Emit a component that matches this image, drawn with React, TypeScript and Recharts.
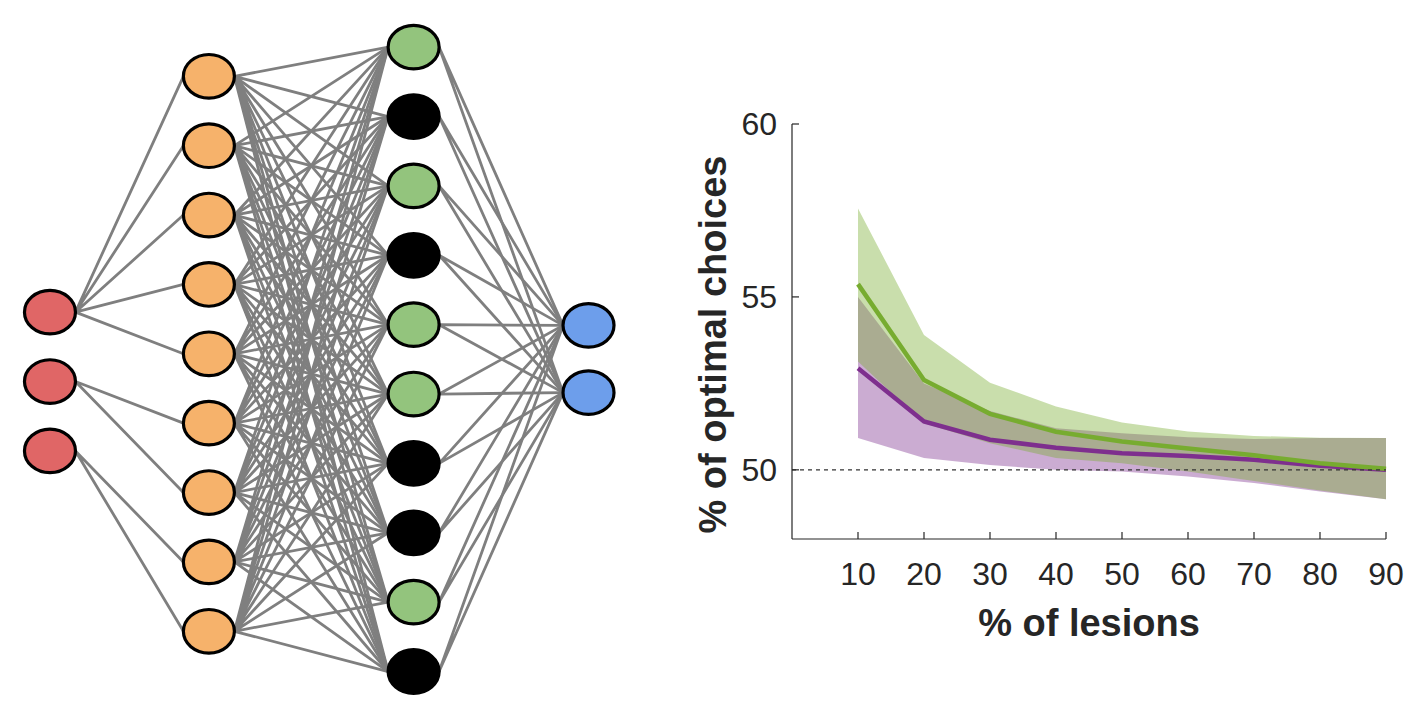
import React from "react";
import {
  ComposedChart,
  ScatterChart,
  Scatter,
  Area,
  Line,
  XAxis,
  YAxis,
  ReferenceLine,
  Label,
} from "recharts";

// ---- network diagram (units: one node spacing) ----
const layerX = [0.72, 3.01, 5.96, 8.48];
const inputRows = [4.5, 5.5, 6.5];
const hidden1Rows = [1.1, 2.1, 3.1, 4.1, 5.1, 6.1, 7.1, 8.1, 9.1];
const hidden2Rows = [0.68, 1.68, 2.68, 3.68, 4.68, 5.68, 6.68, 7.68, 8.68, 9.68];
const hidden2Lesioned = [false, true, false, true, false, false, true, true, false, true];
const outputRows = [4.69, 5.66];
const inputTargets = [
  [0, 1, 2, 3, 4],
  [5, 6],
  [7, 8],
];
const nodeHalfWidth = 0.367;

// ---- lesion curves ----
const lesionPct = [10, 20, 30, 40, 50, 60, 70, 80, 90];
const greenMean = [55.37, 52.6, 51.62, 51.1, 50.82, 50.62, 50.42, 50.19, 50.03];
const greenHigh = [57.56, 53.9, 52.52, 51.83, 51.37, 51.11, 50.98, 50.93, 50.92];
const greenLow = [53.13, 51.35, 50.77, 50.34, 50.19, 49.95, 49.68, 49.4, 49.15];
const purpleMean = [52.94, 51.4, 50.87, 50.64, 50.48, 50.4, 50.29, 50.12, 50.0];
const purpleHigh = [55.0, 52.5, 51.7, 51.2, 51.06, 50.94, 50.89, 50.92, 50.92];
const purpleLow = [50.92, 50.34, 50.14, 50.0, 49.95, 49.81, 49.62, 49.37, 49.15];
const xTicks = [10, 20, 30, 40, 50, 60, 70, 80, 90];
const yTicks = [50, 55, 60];

const GREEN = "#77AC30";
const PURPLE = "#7E2F8E";
const AXIS = "#262626";
const EDGE = "#7f7f7f";
const FONT = "'Liberation Sans', Arial, sans-serif";
const NET_W = 650;

const NoShape = () => <g />;

const nodeShape = (fill: string) => (props: any) => (
  <ellipse
    cx={props.cx}
    cy={props.cy}
    rx={25.5}
    ry={21.8}
    fill={fill}
    stroke="#000"
    strokeWidth={3.2}
  />
);

const edgePath = (props: any) => (
  <polyline
    points={(props.points || []).map((p: any) => `${p.x},${p.y}`).join(" ")}
    fill="none"
    stroke={EDGE}
    strokeWidth={2.8}
    strokeLinejoin="round"
  />
);

// fan of edges from one node: src, t1, src, t2, ...
function fan(srcLayer: number, srcRow: number, targetRows: number[]) {
  const pts: { x: number; y: number }[] = [];
  targetRows.forEach((r) => {
    pts.push({ x: layerX[srcLayer] + nodeHalfWidth, y: srcRow });
    pts.push({ x: layerX[srcLayer + 1] - nodeHalfWidth, y: r });
  });
  return pts;
}

function Network() {
  const edgeFans: { x: number; y: number }[][] = [];
  inputRows.forEach((r, i) =>
    edgeFans.push(fan(0, r, inputTargets[i].map((t) => hidden1Rows[t])))
  );
  hidden1Rows.forEach((r) => edgeFans.push(fan(1, r, hidden2Rows)));
  hidden2Rows.forEach((r) => edgeFans.push(fan(2, r, outputRows)));

  const inputs = inputRows.map((y) => ({ x: layerX[0], y }));
  const hidden1 = hidden1Rows.map((y) => ({ x: layerX[1], y }));
  const active = hidden2Rows
    .filter((_, i) => !hidden2Lesioned[i])
    .map((y) => ({ x: layerX[2], y }));
  const lesioned = hidden2Rows
    .filter((_, i) => hidden2Lesioned[i])
    .map((y) => ({ x: layerX[2], y }));
  const outputs = outputRows.map((y) => ({ x: layerX[3], y }));

  return (
    <ScatterChart width={NET_W} height={718} margin={{ top: 0, right: 0, bottom: 0, left: 0 }}>
      <XAxis type="number" dataKey="x" domain={[0, NET_W / 69.4]} hide />
      <YAxis type="number" dataKey="y" domain={[0, 10.35]} reversed hide />
      {edgeFans.map((d, i) => (
        <Scatter
          key={"e" + i}
          data={d}
          shape={NoShape}
          line={edgePath}
          isAnimationActive={false}
        />
      ))}
      <Scatter data={inputs} shape={nodeShape("#e06666")} isAnimationActive={false} />
      <Scatter data={hidden1} shape={nodeShape("#f6b26b")} isAnimationActive={false} />
      <Scatter data={active} shape={nodeShape("#93c47d")} isAnimationActive={false} />
      <Scatter data={lesioned} shape={nodeShape("#000000")} isAnimationActive={false} />
      <Scatter data={outputs} shape={nodeShape("#6d9eeb")} isAnimationActive={false} />
    </ScatterChart>
  );
}

function LesionChart() {
  const rows = lesionPct.map((x, i) => ({
    x,
    gMean: greenMean[i],
    gBand: [greenLow[i], greenHigh[i]],
    pMean: purpleMean[i],
    pBand: [purpleLow[i], purpleHigh[i]],
  }));

  return (
    <ComposedChart
      width={1414 - NET_W}
      height={718}
      data={rows}
      margin={{ top: 124, right: 28, bottom: 0, left: 0 }}
    >
      <XAxis
        dataKey="x"
        type="number"
        domain={[0, 90]}
        ticks={xTicks}
        interval={0}
        height={179}
        tickSize={-7}
        tickMargin={30}
        axisLine={{ stroke: AXIS, strokeWidth: 1.2 }}
        tickLine={{ stroke: AXIS, strokeWidth: 1.2 }}
        tick={{ fill: AXIS, fontSize: 32, fontFamily: FONT }}
      >
        <Label
          value="% of lesions"
          position="insideTop"
          offset={70}
          style={{ fontSize: 38, fontWeight: 700, fill: AXIS, fontFamily: FONT }}
        />
      </XAxis>
      <YAxis
        type="number"
        domain={[48, 60]}
        ticks={yTicks}
        interval={0}
        width={792 - NET_W}
        tickSize={-7}
        tickMargin={22}
        axisLine={{ stroke: AXIS, strokeWidth: 1.2 }}
        tickLine={{ stroke: AXIS, strokeWidth: 1.2 }}
        tick={{ fill: AXIS, fontSize: 32, fontFamily: FONT }}
      >
        <Label
          value="% of optimal choices"
          position="center"
          angle={-90}
          dx={713 - (NET_W + (792 - NET_W) / 2)}
          dy={13}
          style={{ fontSize: 38, fontWeight: 700, fill: AXIS, fontFamily: FONT }}
        />
      </YAxis>
      <Area
        dataKey="pBand"
        type="linear"
        fill={PURPLE}
        fillOpacity={0.4}
        stroke="none"
        isAnimationActive={false}
      />
      <Area
        dataKey="gBand"
        type="linear"
        fill={GREEN}
        fillOpacity={0.4}
        stroke="none"
        isAnimationActive={false}
      />
      <Line
        dataKey="pMean"
        type="linear"
        stroke={PURPLE}
        strokeWidth={4.5}
        dot={false}
        isAnimationActive={false}
      />
      <Line
        dataKey="gMean"
        type="linear"
        stroke={GREEN}
        strokeWidth={4.5}
        dot={false}
        isAnimationActive={false}
      />
      <ReferenceLine y={50} stroke="#333" strokeWidth={1.2} strokeDasharray="4 4" />
    </ComposedChart>
  );
}

export default function App() {
  return (
    <div
      style={{
        position: "absolute",
        left: 0,
        top: 0,
        width: 1414,
        height: 718,
        background: "#fff",
        overflow: "hidden",
      }}
    >
      <div style={{ position: "absolute", left: 0, top: 0 }}>
        <Network />
      </div>
      <div style={{ position: "absolute", left: NET_W, top: 0 }}>
        <LesionChart />
      </div>
    </div>
  );
}
